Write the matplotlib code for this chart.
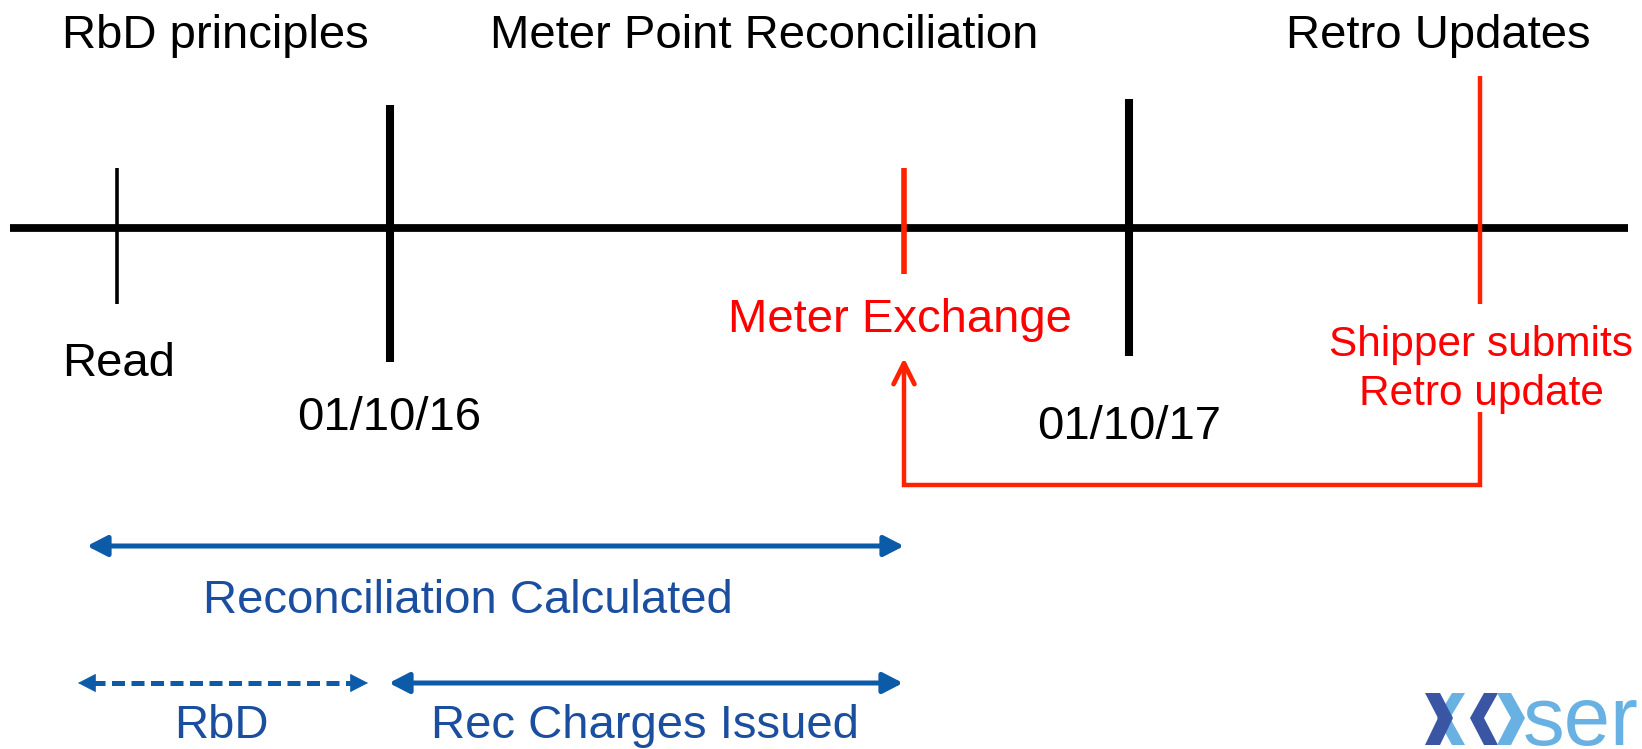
import matplotlib
matplotlib.use("Agg")
import matplotlib.pyplot as plt
from matplotlib.patches import FancyArrowPatch, Polygon

plt.rcParams['font.family'] = ['Liberation Sans', 'DejaVu Sans']

W, H = 1642, 749

# ---- data (pixel layout of the timeline diagram) ----
timeline_x = [10, 1628]
timeline_y = 228

event_x = [117, 390, 904, 1129, 1480]
event_top = [168, 105, 168, 99, 76]
event_bottom = [304, 362, 274, 356, 304]
event_color = ['black', 'black', '#FF2200', 'black', '#FF2200']
event_lw = [2.6, 5.8, 4.0, 5.8, 3.2]

section_titles = ["RbD principles", "Meter Point Reconciliation", "Retro Updates"]
section_x = [62, 490, 1286]
section_y = [48, 48, 48]

labels = ["Read", "01/10/16", "Meter Exchange", "01/10/17"]
label_x = [62, 297, 728, 1037]
label_y = [376, 430, 332, 439]
label_color = ['black', 'black', '#FF0000', 'black']

retro_lines = ["Shipper submits", "Retro update"]
retro_x = 1481
retro_y = [356, 405]

bracket_x = [1480, 1480, 904, 904]
bracket_y = [412, 485, 485, 372]
bracket_tip = 358

spans = ["Reconciliation Calculated", "RbD", "Rec Charges Issued"]
span_start = [87, 78, 389]
span_end = [904, 368, 903]
span_y = [546, 683, 683]
span_dashed = [False, True, False]
span_text_x = [203, 221, 645]
span_text_y = [613, 738, 738]
span_text_ha = ['left', 'center', 'center']

BLUE_LINE = '#0B5BA9'
BLUE_TEXT = '#1B4E9F'
RED_LINE = '#FF2200'

fig = plt.figure(figsize=(W / 100, H / 100), dpi=100)
ax = fig.add_axes([0, 0, 1, 1])
ax.set_xlim(0, W)
ax.set_ylim(H, 0)
ax.axis('off')

FS = 34

# main timeline
ax.plot(timeline_x, [timeline_y, timeline_y], color='black', lw=5.6,
        solid_capstyle='butt', zorder=2)

# event ticks
for x, t, b, c, lw in zip(event_x, event_top, event_bottom, event_color, event_lw):
    ax.plot([x, x], [t, b], color=c, lw=lw, solid_capstyle='butt', zorder=3)

# section titles
for s, x, y in zip(section_titles, section_x, section_y):
    ax.text(x, y, s, fontsize=FS, ha='left', va='baseline', color='black')

# event labels
for s, x, y, c in zip(labels, label_x, label_y, label_color):
    ax.text(x, y, s, fontsize=FS, ha='left', va='baseline', color=c)

for s, y in zip(retro_lines, retro_y):
    ax.text(retro_x, y, s, fontsize=30.5, ha='center', va='baseline', color='#FF0000')

# red bracket with open arrowhead
ax.plot(bracket_x, bracket_y, color=RED_LINE, lw=3.2, solid_joinstyle='miter',
        solid_capstyle='butt', zorder=3)
arr = FancyArrowPatch((bracket_x[-1], bracket_y[-1] + 2), (bracket_x[-1], bracket_tip),
                      arrowstyle='->,head_length=15,head_width=7.5', mutation_scale=1,
                      color=RED_LINE, lw=3.4, shrinkA=0, shrinkB=0,
                      capstyle='round', joinstyle='round', zorder=3)
ax.add_patch(arr)

# blue span arrows
for s, x0, x1, y, dashed, tx, ty, ha in zip(spans, span_start, span_end, span_y,
                                           span_dashed, span_text_x, span_text_y,
                                           span_text_ha):
    if dashed:
        ax.plot([x0 + 14, x1 - 14], [y, y], color=BLUE_LINE, lw=3.6,
                dashes=(2.6, 1.3), solid_capstyle='butt', zorder=3)
        for a, b in [(x0 + 16, x0), (x1 - 16, x1)]:
            ax.add_patch(FancyArrowPatch((a, y), (b, y),
                                         arrowstyle='-|>,head_length=12,head_width=6.2',
                                         mutation_scale=1, color=BLUE_LINE, lw=0.5,
                                         shrinkA=0, shrinkB=0, zorder=3))
    else:
        ax.add_patch(FancyArrowPatch((x0, y), (x1, y),
                                     arrowstyle='<|-|>,head_length=12,head_width=6.2',
                                     mutation_scale=1, color=BLUE_LINE, lw=3.6,
                                     shrinkA=0, shrinkB=0, zorder=3))
    ax.text(tx, ty, s, fontsize=FS, ha=ha, va='baseline', color=BLUE_TEXT)

# logo (partially visible "xoser")
DARK = '#3A55A4'
LIGHT = '#6AB1E3'
logo_top, logo_mid, logo_bot = 693, 718, 745
chevrons = [  # (left-edge x at top/bottom, left-edge x at middle, width, colour)
    (1452, 1437, 13, LIGHT),
    (1425, 1438, 15, DARK),
    (1484, 1470, 14, DARK),
    (1497, 1511, 14, LIGHT),
]
for xe, xm, w, c in chevrons:
    pts = [(xe, logo_top), (xe + w, logo_top), (xm + w, logo_mid),
           (xe + w, logo_bot), (xe, logo_bot), (xm, logo_mid)]
    ax.add_patch(Polygon(pts, closed=True, facecolor=c, edgecolor='none', zorder=4))
ax.text(1523, logo_bot, "ser", fontsize=60,
        family=['Liberation Sans Narrow', 'Liberation Sans', 'DejaVu Sans'],
        ha='left', va='baseline', color=LIGHT, zorder=4)

fig.savefig('out.png', dpi=100)
